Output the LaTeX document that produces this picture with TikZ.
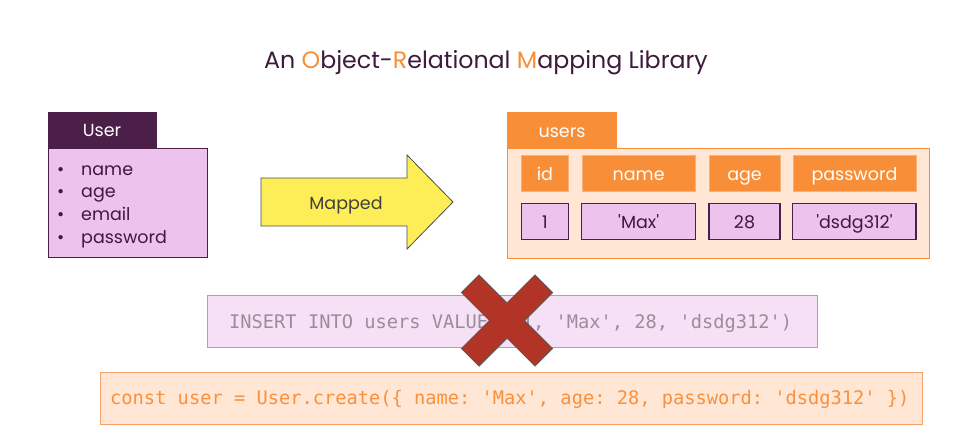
\documentclass[tikz,border=0pt]{standalone}
\usepackage{fontspec}
\setmainfont{Poppins}
\setmonofont{DejaVu Sans Mono}
\definecolor{ormpurple}{HTML}{4B1F48}
\definecolor{ormtext}{HTML}{3F1A3C}
\definecolor{ormpink}{HTML}{EDC2EC}
\definecolor{ormorange}{HTML}{F88F38}
\definecolor{ormpeach}{HTML}{FFE6D5}
\definecolor{ormyellow}{HTML}{FDEE57}
\definecolor{ormred}{HTML}{B23427}
\definecolor{insfill}{HTML}{F6E0F5}
\definecolor{insdraw}{HTML}{B79AB6}
\definecolor{instext}{HTML}{9B8C9B}
\definecolor{constdraw}{HTML}{F5A266}
\definecolor{consttext}{HTML}{F8913D}
\newcommand{\sq}{\textquotesingle}
\tikzset{
  boxnode/.style={anchor=north west, inner sep=0pt, outer sep=0pt, line width=1pt},
  txt/.style={anchor=base, inner sep=0pt, font=\fontsize{17.5}{20}\selectfont, text=ormtext},
  hdrcell/.style={boxnode, fill=ormorange, draw=ormorange!70!white, line width=0.6pt, minimum height=36.5pt},
  valcell/.style={boxnode, fill=ormpink, draw=ormpurple, line width=1.1pt, minimum height=35.5pt},
  codetxt/.style={anchor=base west, inner sep=0pt, font=\ttfamily\fontsize{18.7}{22}\selectfont}
}
\begin{document}
\begin{tikzpicture}[x=1pt,y=-1pt]
\useasboundingbox[fill=white] (0,0) rectangle (955,444);

% title
\node[txt, font=\fontsize{23.7}{26}\selectfont] (title) at (486,68.3)
  {An \textcolor{ormorange}{O}bject-\textcolor{ormorange}{R}elational \textcolor{ormorange}{M}apping Library};

% User class box
\node[boxnode, fill=ormpurple, draw=ormpurple, minimum width=108pt, minimum height=36pt] (userhead) at (48,112) {};
\node[boxnode, fill=ormpink, draw=ormpurple, minimum width=159pt, minimum height=109pt] (userbody) at (48,148) {};
\node[txt, text=white] (usertitle) at (102,136.7) {User};
\foreach \n/\t/\yy in {a/name/175, b/age/197.7, c/email/220.4, d/password/243}{
  \node[txt] (bul\n) at (60.7,\yy) {•};
  \node[txt, anchor=base west] (item\n) at (81,\yy) {\t};
}

% Mapped arrow
\draw[fill=ormyellow, draw=black!70, line width=0.8pt]
  (261,178) -- (407,178) -- (407,155) -- (453,202) -- (407,249) -- (407,226) -- (261,226) -- cycle;
\node[txt, text=black!75] (mapped) at (346,209) {Mapped};

% users table
\node[boxnode, fill=ormorange, draw=ormorange, minimum width=109pt, minimum height=36pt] (tablehead) at (507.5,112.5) {};
\node[boxnode, fill=ormpeach, draw=ormorange, minimum width=422pt, minimum height=110pt] (tablebody) at (507.5,148) {};
\node[txt, text=white] (tabletitle) at (562,137) {users};

\foreach \k/\xa/\w/\h/\v in {1/521.3/47.3/id/1, 2/581.8/113.7/name/\sq Max\sq, 3/709/71/age/28, 4/792.9/123.1/password/\sq dsdg312\sq}{
  \node[hdrcell, minimum width=\w pt] (hc\k) at (\xa,154.8) {};
  \node[txt, text=white] (ht\k) at (\xa+\w/2,180.5) {\h};
  \node[valcell, minimum width=\w pt] (vc\k) at (\xa,203.8) {};
  \node[txt] (vt\k) at (\xa+\w/2,228.5) {\v};
}

% SQL box
\node[boxnode, fill=insfill, draw=insdraw, minimum width=610pt, minimum height=52pt] (sqlbox) at (207,295) {};
\node[codetxt, text=instext] (sqltext) at (229,328.3) {INSERT INTO users VALUES (1, 'Max', 28, 'dsdg312')};

% red cross
\begin{scope}[shift={(507,320.5)}, rotate=45]
  \draw[fill=ormred, draw=black!65, line width=0.8pt, line join=miter]
    (52,12.5) -- (12.5,12.5) -- (12.5,52) -- (-12.5,52) -- (-12.5,12.5) -- (-52,12.5)
    -- (-52,-12.5) -- (-12.5,-12.5) -- (-12.5,-52) -- (12.5,-52) -- (12.5,-12.5) -- (52,-12.5) -- cycle;
\end{scope}

% ORM code box
\node[boxnode, fill=ormpeach, draw=constdraw, minimum width=822pt, minimum height=52pt] (constbox) at (100,372) {};
\node[codetxt, text=consttext] (consttext) at (110,404.3) {const user = User.create(\{ name: 'Max', age: 28, password: 'dsdg312' \})};
\end{tikzpicture}
\end{document}
